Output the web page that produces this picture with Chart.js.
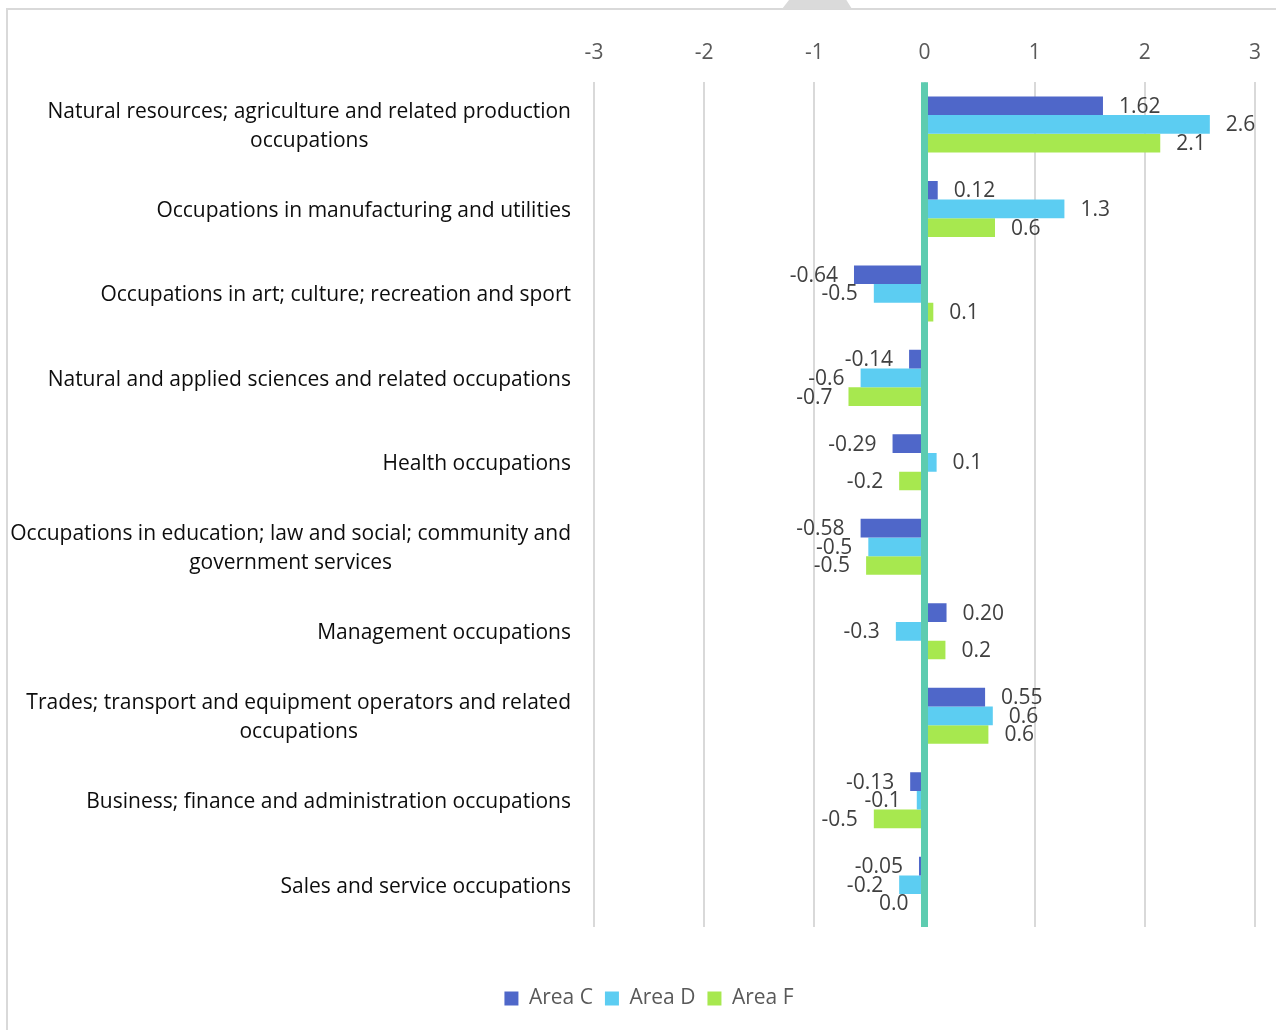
<!DOCTYPE html>
<html>
<head>
<meta charset="utf-8">
<script src="https://cdn.jsdelivr.net/npm/chart.js@4.4.1/dist/chart.umd.min.js"></script>
<style>
  html, body { margin: 0; padding: 0; background: #fff; }
  #wrap { position: relative; width: 1276px; height: 1030px; overflow: hidden; }
  #frame { position: absolute; left: 6px; top: 8px; width: 1400px; height: 1100px;
           border-left: 2px solid #d9d9d9; border-top: 2px solid #d9d9d9; }
  #tab { position: absolute; left: 782px; top: 0; width: 70px; height: 9px; background: #dadada;
         clip-path: polygon(10% 0, 92% 0, 100% 100%, 0 100%); }
  canvas { position: absolute; left: 0; top: 0; }
</style>
</head>
<body>
<div id="wrap">
  <div id="frame"></div>
  <div id="tab"></div>
  <canvas id="chart" width="1276" height="1030"></canvas>
</div>
<script>
// Occupation groups (two-line entries wrap like the printed labels)
const categories = [
  ["Natural resources; agriculture and related production", "occupations"],
  "Occupations in manufacturing and utilities",
  "Occupations in art; culture; recreation and sport",
  "Natural and applied sciences and related occupations",
  "Health occupations",
  ["Occupations in education; law and social; community and", "government services"],
  "Management occupations",
  ["Trades; transport and equipment operators and related", "occupations"],
  "Business; finance and administration occupations",
  "Sales and service occupations"
];

// Change by area
const areaC = [1.62, 0.12, -0.64, -0.14, -0.29, -0.58, 0.20, 0.55, -0.13, -0.05];
const areaD = [2.59, 1.27, -0.46, -0.58, 0.11, -0.51, -0.26, 0.62, -0.07, -0.23];
const areaF = [2.14, 0.64, 0.08, -0.69, -0.23, -0.53, 0.19, 0.58, -0.46, 0.00];

// Decimal places shown in each series' value labels
const labelDecimals = [2, 1, 1];

// Value axis ticks
const xMin = -3, xMax = 3, xStep = 1;

const FONT = '"Open Sans", "Noto Sans", sans-serif';

// Thick axis line through zero, drawn over the bars
const zeroLine = {
  id: 'zeroLine',
  afterDatasetsDraw(chart) {
    const { ctx, chartArea, scales: { x } } = chart;
    const px = x.getPixelForValue(0);
    ctx.save();
    ctx.strokeStyle = '#5DCCB0';
    ctx.lineWidth = 7;
    ctx.beginPath();
    ctx.moveTo(px, chartArea.top);
    ctx.lineTo(px, chartArea.bottom);
    ctx.stroke();
    ctx.restore();
  }
};

// Value labels just past the end of each bar
const valueLabels = {
  id: 'valueLabels',
  afterDatasetsDraw(chart) {
    const { ctx } = chart;
    ctx.save();
    ctx.font = '21px ' + FONT;
    ctx.fillStyle = '#404040';
    ctx.textBaseline = 'middle';
    chart.data.datasets.forEach((ds, di) => {
      const meta = chart.getDatasetMeta(di);
      meta.data.forEach((bar, i) => {
        const v = ds.data[i];
        const txt = v.toFixed(labelDecimals[di]).replace(/^-(0\.0+)$/, '$1');
        if (v > 0) {
          ctx.textAlign = 'left';
          ctx.fillText(txt, bar.x + 16, bar.y + 1);
        } else {
          ctx.textAlign = 'right';
          ctx.fillText(txt, bar.x - 16, bar.y + 1);
        }
      });
    });
    ctx.restore();
  }
};

// Category labels, right-aligned as blocks with each line centred in its block
const categoryLabels = {
  id: 'categoryLabels',
  afterDraw(chart) {
    const { ctx, chartArea, scales: { y } } = chart;
    const right = chartArea.left - 23;
    const lineH = 29;
    ctx.save();
    ctx.font = '21px ' + FONT;
    ctx.fillStyle = '#0d0d0d';
    ctx.textBaseline = 'middle';
    ctx.textAlign = 'center';
    chart.data.labels.forEach((lab, i) => {
      const lines = Array.isArray(lab) ? lab : [lab];
      const w = Math.max(...lines.map(l => ctx.measureText(l).width));
      const cx = right - w / 2;
      const cy = y.getPixelForValue(i);
      lines.forEach((l, k) => {
        ctx.fillText(l, cx, cy - (lines.length - 1) * lineH / 2 + k * lineH + 2);
      });
    });
    ctx.restore();
  }
};

new Chart(document.getElementById('chart'), {
  type: 'bar',
  data: {
    labels: categories,
    datasets: [
      { label: 'Area C', data: areaC, backgroundColor: '#4F67C9' },
      { label: 'Area D', data: areaD, backgroundColor: '#5CCDF2' },
      { label: 'Area F', data: areaF, backgroundColor: '#A7E84F' }
    ]
  },
  options: {
    indexAxis: 'y',
    responsive: false,
    animation: false,
    devicePixelRatio: 1,
    datasets: { bar: { categoryPercentage: 0.663, barPercentage: 1 } },
    layout: { padding: { left: 22, right: 0, top: 23, bottom: 11 } },
    scales: {
      x: {
        position: 'top',
        min: xMin, max: xMax,
        ticks: { stepSize: xStep, color: '#595959', font: { family: FONT, size: 21 }, padding: 17 },
        grid: { color: '#d9d9d9', lineWidth: 2, drawTicks: false },
        border: { display: false },
        afterFit(scale) { scale.paddingLeft = 0; scale.paddingRight = 21; }
      },
      // empty band between the plot and the legend
      gap: {
        type: 'linear',
        axis: 'x',
        position: 'bottom',
        display: true,
        ticks: { display: false },
        grid: { display: false, drawTicks: false },
        border: { display: false },
        afterFit(scale) { scale.height = 49; }
      },
      y: {
        ticks: { display: false },
        grid: { display: false },
        border: { display: false },
        afterFit(scale) { scale.width = 572; }
      }
    },
    plugins: {
      legend: {
        position: 'bottom',
        labels: {
          boxWidth: 14, boxHeight: 14, padding: 12,
          color: '#595959', font: { family: FONT, size: 21 }
        }
      },
      tooltip: { enabled: false }
    }
  },
  plugins: [zeroLine, valueLabels, categoryLabels]
});
</script>
</body>
</html>
